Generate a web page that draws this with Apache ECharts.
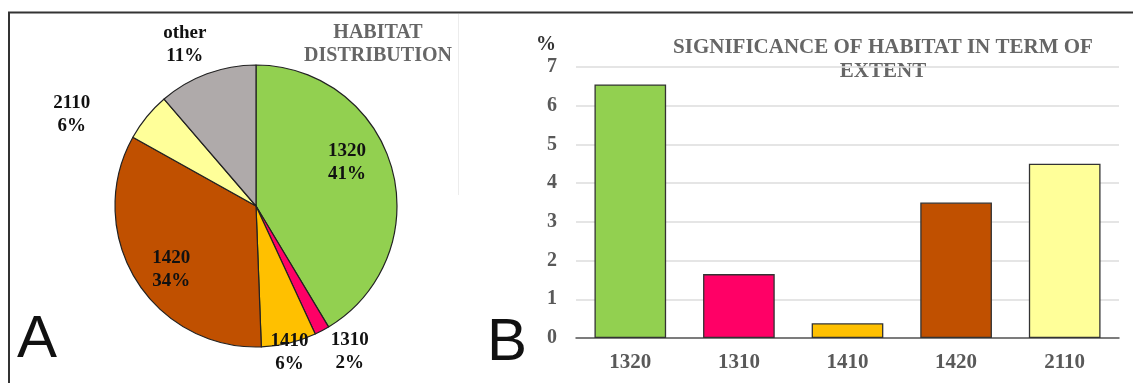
<!DOCTYPE html>
<html>
<head>
<meta charset="utf-8">
<script src="https://cdn.jsdelivr.net/npm/echarts@6/dist/echarts.min.js"></script>
<style>
html,body{margin:0;padding:0;background:#fff;}
#c{width:1133px;height:383px;}
</style>
</head>
<body>
<div id="c"></div>
<script>
// ---- data ----
var pieNames = ['1320', '1310', '1410', '1420', '2110', 'other'];
var pieValues = [41.4, 1.7, 6.3, 33.7, 5.6, 11.3];
var barCategories = ['1320', '1310', '1410', '1420', '2110'];
var barValues = [6.55, 1.65, 0.38, 3.5, 4.5];
var yTicks = [0, 1, 2, 3, 4, 5, 6, 7];

// ---- styles ----
var colors = {
  '1320': '#92d050', '1310': '#ff0066', '1410': '#ffc000',
  '1420': '#c05000', '2110': '#ffff99', 'other': '#afaaaa'
};
var pieCenter = [256, 206], pieRadius = 141;
// label placement: radius factor and angle nudge (deg) relative to slice middle
var labelRadiusK = [0.713, 1.23, 1.064, 0.752, 1.46, 1.25];
var labelAngleNudge = [-9.8, -4.8, 0.6, -5.4, -12.8, -3.5];
var serif = "'Liberation Serif', 'DejaVu Serif', serif";

var total = pieValues.reduce(function (a, b) { return a + b; }, 0);
var midAngles = [];
(function () {
  var acc = 0;
  for (var i = 0; i < pieValues.length; i++) {
    midAngles.push((acc + pieValues[i] / 2) / total * 360);
    acc += pieValues[i];
  }
})();

var chart = echarts.init(document.getElementById('c'), null, {renderer: 'canvas'});
chart.setOption({
  animation: false,
  backgroundColor: '#fff',
  grid: {left: 576, right: 14, top: 67, bottom: 45, containLabel: false},
  xAxis: {
    type: 'category',
    data: barCategories,
    axisTick: {show: false},
    axisLine: {lineStyle: {color: '#595959', width: 1.5}},
    axisLabel: {color: '#595959', fontFamily: serif, fontWeight: 'bold', fontSize: 21, margin: 14}
  },
  yAxis: {
    type: 'value',
    min: yTicks[0], max: yTicks[yTicks.length - 1], interval: 1,
    axisLine: {show: false},
    axisTick: {show: false},
    splitLine: {lineStyle: {color: '#dcdcdc', width: 1.5}},
    axisLabel: {color: '#595959', fontFamily: serif, fontWeight: 'bold', fontSize: 20, margin: 19}
  },
  series: [
    {
      type: 'bar',
      barWidth: '66%',
      data: barValues.map(function (v, i) {
        return {value: v, itemStyle: {color: colors[barCategories[i]]}};
      }),
      itemStyle: {borderColor: '#333', borderWidth: 1.3}
    },
    {
      type: 'pie',
      center: pieCenter,
      radius: pieRadius,
      startAngle: 90,
      clockwise: true,
      avoidLabelOverlap: false,
      percentPrecision: 0,
      data: pieNames.map(function (n, i) {
        return {name: n, value: pieValues[i], itemStyle: {color: colors[n]}};
      }),
      itemStyle: {borderColor: '#222', borderWidth: 1.2},
      label: {
        show: true,
        position: 'inside',
        formatter: '{b}\n{d}%',
        color: '#111',
        fontFamily: serif,
        fontWeight: 'bold',
        fontSize: 19,
        lineHeight: 23
      },
      labelLine: {show: false},
      labelLayout: function (p) {
        var i = p.dataIndex;
        var a = (midAngles[i] + labelAngleNudge[i]) * Math.PI / 180;
        var d = labelRadiusK[i] * pieRadius;
        return {
          x: pieCenter[0] + d * Math.sin(a),
          y: pieCenter[1] - d * Math.cos(a),
          align: 'center',
          verticalAlign: 'middle'
        };
      }
    }
  ],
  graphic: [
    {type: 'line', shape: {x1: 8, y1: 12.5, x2: 1133, y2: 12.5}, style: {stroke: '#333', lineWidth: 2}},
    {type: 'line', shape: {x1: 9, y1: 12, x2: 9, y2: 383}, style: {stroke: '#333', lineWidth: 2}},
    {type: 'line', shape: {x1: 458.5, y1: 14, x2: 458.5, y2: 195}, style: {stroke: '#ececec', lineWidth: 1}},
    {type: 'text', style: {text: 'HABITAT\nDISTRIBUTION', x: 378, y: 44.5, textAlign: 'center', textVerticalAlign: 'middle',
      font: "bold 20px " + serif, fill: '#666', lineHeight: 23}},
    {type: 'text', style: {text: 'SIGNIFICANCE OF HABITAT IN TERM OF\nEXTENT', x: 883, y: 59.5, textAlign: 'center', textVerticalAlign: 'middle',
      font: "bold 21px " + serif, fill: '#666', lineHeight: 24}},
    {type: 'text', style: {text: '%', x: 546, y: 45, textAlign: 'center', textVerticalAlign: 'middle',
      font: "bold 20px " + serif, fill: '#333'}},
    {type: 'text', style: {text: 'A', x: 17, y: 370, textAlign: 'left', textVerticalAlign: 'bottom',
      font: "normal 60px 'Liberation Sans', Arial, sans-serif", fill: '#111'}, z: 10},
    {type: 'text', style: {text: 'B', x: 487, y: 373, textAlign: 'left', textVerticalAlign: 'bottom',
      font: "normal 60px 'Liberation Sans', Arial, sans-serif", fill: '#111'}, z: 10}
  ]
});
</script>
</body>
</html>
